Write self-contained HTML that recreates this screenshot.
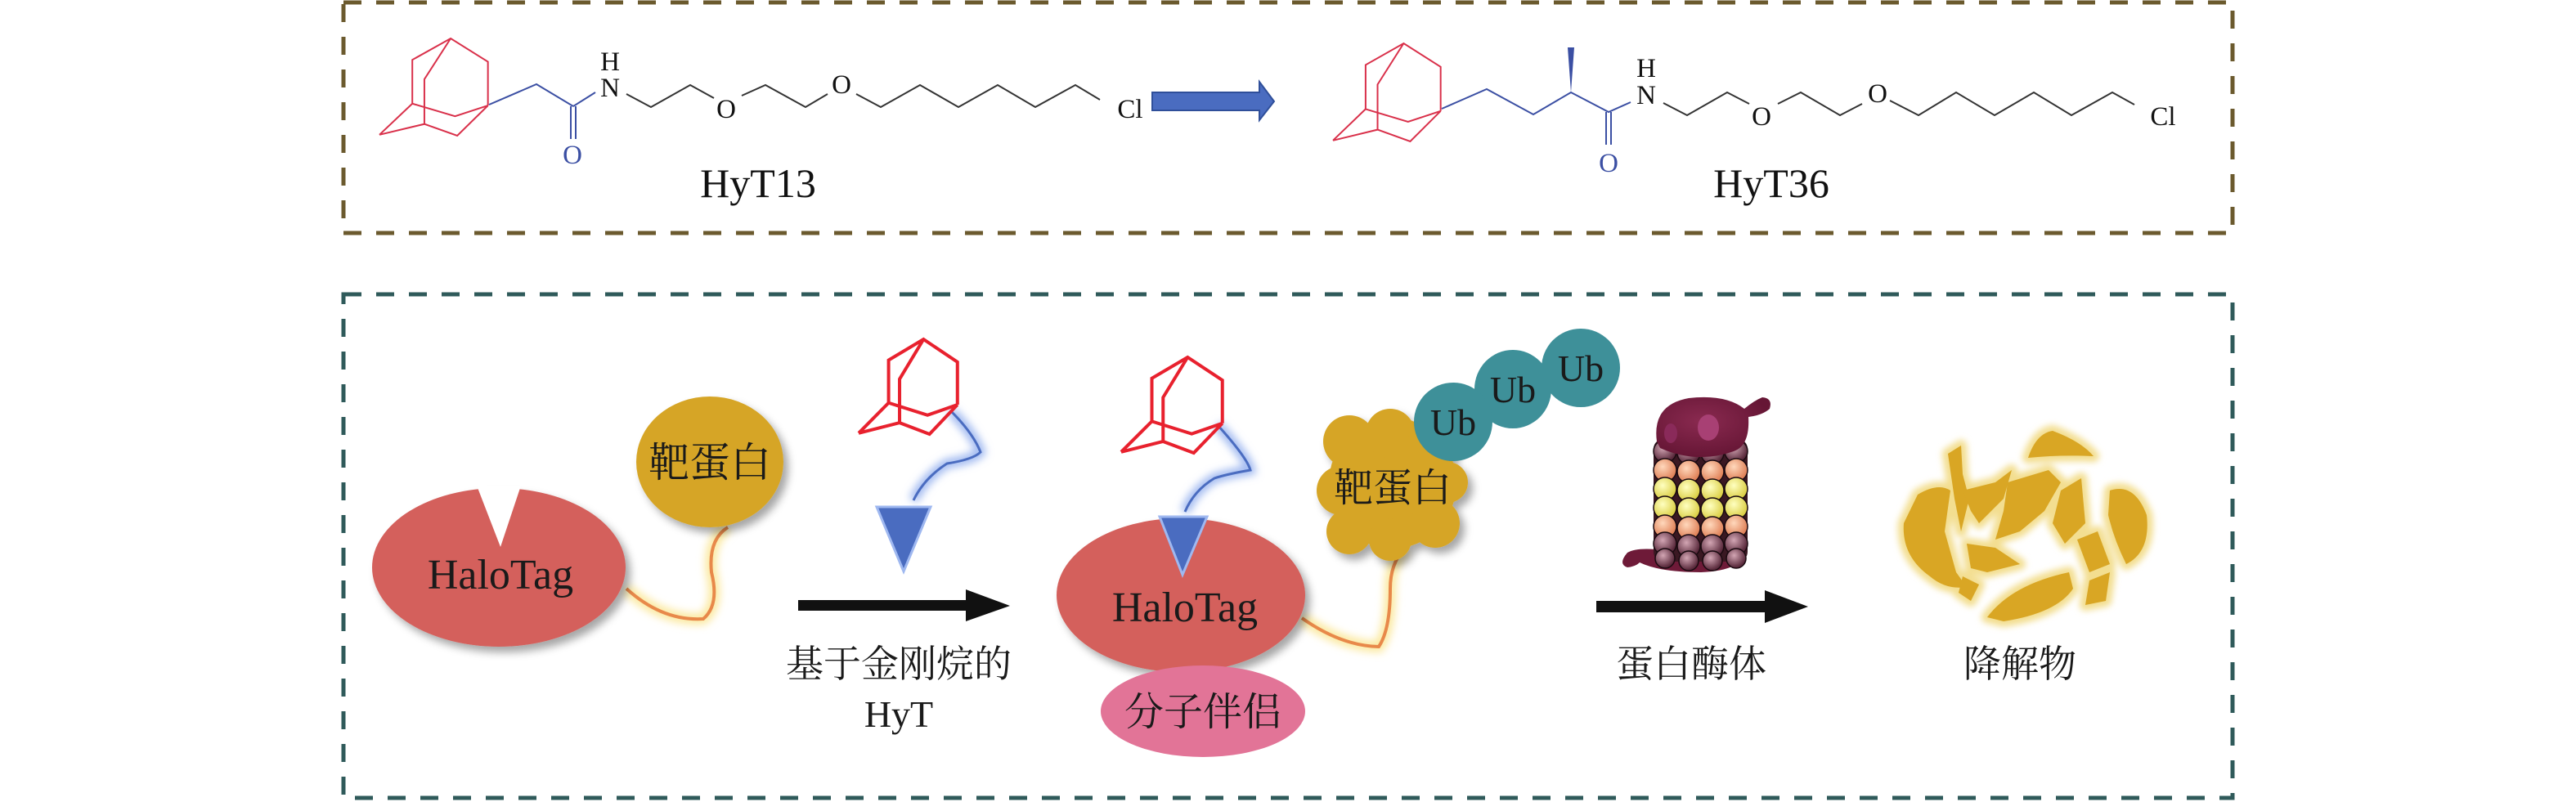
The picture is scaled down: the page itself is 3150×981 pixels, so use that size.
<!DOCTYPE html>
<html><head><meta charset="utf-8"><style>
html,body{margin:0;padding:0;background:#fff}
svg{display:block}
text{font-family:"Liberation Serif","Noto Serif CJK SC",serif}
</style></head><body>
<svg width="3150" height="981" viewBox="0 0 3150 981" xmlns="http://www.w3.org/2000/svg">
<defs>
<filter id="glow" x="-30%" y="-30%" width="160%" height="160%"><feGaussianBlur stdDeviation="5"/></filter>
<filter id="glow2" x="-30%" y="-30%" width="160%" height="160%"><feGaussianBlur stdDeviation="4"/></filter>
<filter id="sh" x="-20%" y="-20%" width="150%" height="150%"><feDropShadow dx="6" dy="7" stdDeviation="5" flood-color="#000" flood-opacity="0.35"/></filter>
<radialGradient id="ball1" cx="40%" cy="35%" r="60%"><stop offset="0" stop-color="#d3a6b4"/><stop offset="1" stop-color="#5a2a3c"/></radialGradient>
<radialGradient id="ball2" cx="40%" cy="35%" r="60%"><stop offset="0" stop-color="#ffd8bc"/><stop offset="1" stop-color="#e0835a"/></radialGradient>
<radialGradient id="ball3" cx="40%" cy="35%" r="60%"><stop offset="0" stop-color="#ffffc0"/><stop offset="1" stop-color="#dcd048"/></radialGradient>
<radialGradient id="capg" cx="40%" cy="40%" r="60%"><stop offset="0" stop-color="#8a2a50"/><stop offset="1" stop-color="#661635"/></radialGradient>
</defs>

<!-- boxes -->
<rect x="420" y="3" width="2310" height="282" fill="none" stroke="#6b5a2e" stroke-width="5" stroke-dasharray="22 18"/>
<rect x="420" y="360" width="2310" height="616" fill="none" stroke="#2f5a5a" stroke-width="5" stroke-dasharray="22 18"/>

<!-- HyT13 -->
<svg x="464" y="47" width="134" height="119" viewBox="0 0 100 100" preserveAspectRatio="none" overflow="visible">
<path d="M30,67 L30,22 L65,0 L99,24 L99,69 M65,0 L41,42 L41,88 M30,67 L69,80 L99,69 M0,99 L41,88 L71,100 L99,69 M0,99 L30,67" fill="none" stroke="#d9304a" stroke-width="2" vector-effect="non-scaling-stroke"/></svg>
<g fill="none" stroke-width="2">
<polyline points="598,128 656,103 701,130" stroke="#3b4fa3"/>
<line x1="698" y1="130" x2="698" y2="170" stroke="#3b4fa3"/><line x1="704" y1="130" x2="704" y2="170" stroke="#3b4fa3"/>
<line x1="701" y1="130" x2="728" y2="113" stroke="#3b4fa3"/>
<polyline points="766,115 796,131 844,104 873,120" stroke="#333"/>
<polyline points="907,117 936,104 985,131 1012,115" stroke="#333"/>
<polyline points="1047,115 1077,131 1125,104 1172,131 1220,104 1266,131 1315,104 1345,122" stroke="#333"/>
</g>
<g font-size="33" fill="#111">
<text x="746" y="118" text-anchor="middle">N</text><text x="746" y="86" text-anchor="middle">H</text>
<text x="888" y="144" text-anchor="middle">O</text>
<text x="1029" y="114" text-anchor="middle">O</text>
<text x="1382" y="144" text-anchor="middle">Cl</text>
<text x="700" y="200" text-anchor="middle" fill="#3b4fa3">O</text>
</g>
<text x="927" y="241" font-size="50" text-anchor="middle" fill="#111">HyT13</text>

<!-- blue arrow -->
<path d="M1409,113 L1540,113 L1540,100 L1558,124 L1540,147 L1540,135 L1409,135 Z" fill="#4a6cc0" stroke="#2f4f9a" stroke-width="2"/>

<!-- HyT36 -->
<svg x="1630" y="53" width="133" height="120" viewBox="0 0 100 100" preserveAspectRatio="none" overflow="visible">
<path d="M30,67 L30,22 L65,0 L99,24 L99,69 M65,0 L41,42 L41,88 M30,67 L69,80 L99,69 M0,99 L41,88 L71,100 L99,69 M0,99 L30,67" fill="none" stroke="#d9304a" stroke-width="2" vector-effect="non-scaling-stroke"/></svg>
<g fill="none" stroke-width="2">
<polyline points="1763,133 1818,109 1875,140 1921,113 1967,137 1994,125" stroke="#3b4fa3"/>
<line x1="1964" y1="137" x2="1964" y2="177" stroke="#3b4fa3"/><line x1="1970" y1="137" x2="1970" y2="177" stroke="#3b4fa3"/>
<polyline points="2034,126 2063,141 2112,113 2139,127" stroke="#333"/>
<polyline points="2174,127 2202,113 2250,141 2277,127" stroke="#333"/>
<polyline points="2311,123 2346,141 2392,113 2439,141 2487,113 2533,141 2583,113 2610,128" stroke="#333"/>
</g>
<polygon points="1921,113 1917,58 1925,58" fill="#3b4fa3"/>
<g font-size="33" fill="#111">
<text x="2013" y="127" text-anchor="middle">N</text><text x="2013" y="94" text-anchor="middle">H</text>
<text x="2154" y="153" text-anchor="middle">O</text>
<text x="2296" y="125" text-anchor="middle">O</text>
<text x="2645" y="153" text-anchor="middle">Cl</text>
<text x="1967" y="210" text-anchor="middle" fill="#3b4fa3">O</text>
</g>
<text x="2166" y="241" font-size="50" text-anchor="middle" fill="#111">HyT36</text>

<!-- ===== bottom ===== -->
<path d="M766,720 Q810,760 860,757 Q880,740 870,700 Q866,660 890,645" fill="none" stroke="#fbe9a0" stroke-width="14" filter="url(#glow)"/>
<path d="M766,720 Q810,760 860,757 Q880,740 870,700 Q866,660 890,645" fill="none" stroke="#e8894a" stroke-width="4"/>
<ellipse cx="610" cy="694" rx="155" ry="97" fill="#d4605b" filter="url(#sh)"/>
<polygon points="583,594 637,594 612,669" fill="#fff"/>
<text x="612" y="720" font-size="52" text-anchor="middle" fill="#1a1a1a">HaloTag</text>
<ellipse cx="868" cy="565" rx="90" ry="80" fill="#d6a526" filter="url(#sh)"/>
<text x="868" y="583" font-size="50" text-anchor="middle" fill="#1a1a1a">靶蛋白</text>

<!-- adamantane 2 -->
<path d="M1163,503 Q1190,530 1199,553 Q1190,562 1158,567 Q1130,585 1117,612" fill="none" stroke="#9fb8f0" stroke-width="12" filter="url(#glow)"/>
<path d="M1163,503 Q1190,530 1199,553 Q1190,562 1158,567 Q1130,585 1117,612" fill="none" stroke="#4a6cc0" stroke-width="3"/>
<svg x="1050" y="415" width="122" height="116" viewBox="0 0 100 100" preserveAspectRatio="none" overflow="visible">
<path d="M30,67 L30,22 L65,0 L99,24 L99,69 M65,0 L41,42 L41,88 M30,67 L69,80 L99,69 M0,99 L41,88 L71,100 L99,69 M0,99 L30,67" fill="none" stroke="#e8212e" stroke-width="4" vector-effect="non-scaling-stroke"/></svg>
<polygon points="1072,620 1138,620 1105,699" fill="#4a6cc0" stroke="#9fb8f0" stroke-width="3"/>

<path d="M976,734 L1181,734 L1181,721 L1235,741 L1181,760 L1181,747 L976,747 Z" fill="#111"/>
<text x="1099" y="828" font-size="46" text-anchor="middle" fill="#1a1a1a">基于金刚烷的</text>
<text x="1099" y="889" font-size="46" text-anchor="middle" fill="#1a1a1a">HyT</text>

<path d="M1592,756 Q1640,790 1686,791 Q1700,770 1700,720 Q1700,690 1717,671" fill="none" stroke="#fbe9a0" stroke-width="14" filter="url(#glow)"/>
<path d="M1592,756 Q1640,790 1686,791 Q1700,770 1700,720 Q1700,690 1717,671" fill="none" stroke="#e8894a" stroke-width="4"/>
<ellipse cx="1444" cy="728" rx="152" ry="94" fill="#d4605b" filter="url(#sh)"/>
<text x="1449" y="760" font-size="52" text-anchor="middle" fill="#1a1a1a">HaloTag</text>
<ellipse cx="1471" cy="870" rx="125" ry="56" fill="#e27497"/>
<text x="1471" y="887" font-size="48" text-anchor="middle" fill="#1a1a1a">分子伴侣</text>
<path d="M1489,520 Q1525,560 1529,575 Q1500,580 1485,585 Q1460,600 1449,626" fill="none" stroke="#9fb8f0" stroke-width="12" filter="url(#glow)"/>
<path d="M1489,520 Q1525,560 1529,575 Q1500,580 1485,585 Q1460,600 1449,626" fill="none" stroke="#4a6cc0" stroke-width="3"/>
<svg x="1371" y="437" width="125" height="117" viewBox="0 0 100 100" preserveAspectRatio="none" overflow="visible">
<path d="M30,67 L30,22 L65,0 L99,24 L99,69 M65,0 L41,42 L41,88 M30,67 L69,80 L99,69 M0,99 L41,88 L71,100 L99,69 M0,99 L30,67" fill="none" stroke="#e8212e" stroke-width="4" vector-effect="non-scaling-stroke"/></svg>
<polygon points="1418,632 1476,632 1446,703" fill="#4a6cc0" stroke="#9fb8f0" stroke-width="3"/>

<g fill="#d6a526" filter="url(#sh)">
<ellipse cx="1703" cy="591" rx="78" ry="80"/>
<circle cx="1650" cy="540" r="32"/><circle cx="1700" cy="530" r="30"/><circle cx="1750" cy="545" r="30"/>
<circle cx="1640" cy="600" r="30"/><circle cx="1650" cy="650" r="28"/><circle cx="1700" cy="660" r="26"/><circle cx="1755" cy="640" r="30"/><circle cx="1770" cy="590" r="25"/>
</g>
<text x="1703" y="613" font-size="48" text-anchor="middle" fill="#1a1a1a">靶蛋白</text>

<g fill="#3e9099">
<ellipse cx="1933" cy="450" rx="48" ry="48"/><ellipse cx="1850" cy="476" rx="47" ry="48"/><ellipse cx="1777" cy="516" rx="48" ry="48"/>
</g>
<g font-size="46" fill="#1a1a1a" text-anchor="middle">
<text x="1933" y="466">Ub</text><text x="1850" y="492">Ub</text><text x="1777" y="532">Ub</text>
</g>

<!-- proteasome -->
<path d="M2025,672 Q2000,670 1990,676 Q1978,690 1990,694 Q2000,693 2005,688 Q2030,700 2080,700 Q2132,698 2137,672 Z" fill="#6e1a38"/>
<rect x="2022" y="537" width="115" height="150" fill="#3a1822" rx="12"/>
<g stroke="#1a0a10" stroke-width="1.5">
<g fill="url(#ball1)"><circle cx="2036" cy="552" r="14"/><circle cx="2065" cy="554" r="14"/><circle cx="2094" cy="554" r="14"/><circle cx="2123" cy="552" r="14"/></g>
<g fill="url(#ball2)"><circle cx="2036" cy="575" r="14"/><circle cx="2065" cy="577" r="14"/><circle cx="2094" cy="577" r="14"/><circle cx="2123" cy="575" r="14"/></g>
<g fill="url(#ball3)"><circle cx="2036" cy="598" r="14"/><circle cx="2065" cy="600" r="14"/><circle cx="2094" cy="600" r="14"/><circle cx="2123" cy="598" r="14"/></g>
<g fill="url(#ball3)"><circle cx="2036" cy="621" r="14"/><circle cx="2065" cy="623" r="14"/><circle cx="2094" cy="623" r="14"/><circle cx="2123" cy="621" r="14"/></g>
<g fill="url(#ball2)"><circle cx="2036" cy="644" r="14"/><circle cx="2065" cy="646" r="14"/><circle cx="2094" cy="646" r="14"/><circle cx="2123" cy="644" r="14"/></g>
<g fill="url(#ball1)"><circle cx="2036" cy="665" r="14"/><circle cx="2065" cy="668" r="14"/><circle cx="2094" cy="668" r="14"/><circle cx="2123" cy="665" r="14"/></g>
<g fill="url(#ball1)"><circle cx="2036" cy="683" r="12"/><circle cx="2065" cy="686" r="12"/><circle cx="2094" cy="686" r="12"/><circle cx="2123" cy="683" r="12"/></g>
</g>
<path d="M2026,540 Q2020,495 2065,487 Q2110,482 2133,500 Q2145,490 2155,486 Q2168,487 2164,500 Q2155,508 2138,510 Q2140,545 2120,552 Q2075,568 2030,548 Z" fill="url(#capg)"/>
<ellipse cx="2089" cy="523" rx="13" ry="16" fill="#a84074"/>
<ellipse cx="2043" cy="530" rx="8" ry="12" fill="#8a2a5a"/>

<path d="M1952,735 L2158,735 L2158,722 L2211,742 L2158,762 L2158,749 L1952,749 Z" fill="#111"/>
<text x="2068" y="828" font-size="46" text-anchor="middle" fill="#1a1a1a">蛋白酶体</text>

<!-- degraded -->
<g id="frag">
<path d="M2345,605 Q2370,590 2385,600 L2378,650 L2392,700 L2405,718 Q2380,722 2360,705 Q2325,680 2328,640 Z"/>
<path d="M2382,555 L2398,545 L2400,580 L2408,610 L2398,650 L2390,610 Z"/>
<path d="M2400,600 L2440,590 L2460,575 L2450,610 L2420,640 L2410,625 Z"/>
<path d="M2480,560 Q2490,530 2510,527 Q2545,540 2560,558 Q2520,556 2480,560 Z"/>
<path d="M2455,590 L2505,575 L2520,590 L2500,625 L2470,650 L2440,660 L2450,625 Z"/>
<path d="M2520,600 L2545,585 L2550,640 L2525,665 L2510,640 Z"/>
<path d="M2580,600 Q2610,590 2625,630 Q2630,675 2600,690 Q2585,660 2578,630 Z"/>
<path d="M2405,665 L2440,670 L2470,690 L2430,700 L2410,695 Z"/>
<path d="M2540,660 L2565,650 L2580,690 L2555,700 Z"/>
<path d="M2430,755 Q2460,715 2530,700 L2535,720 Q2515,750 2450,760 Z"/>
<path d="M2555,710 L2580,700 L2575,735 L2550,740 Z"/>
<path d="M2400,705 L2420,715 L2410,735 L2395,725 Z"/>
</g>
<g fill="#f3de90" stroke="#f3de90" stroke-width="14" stroke-linejoin="round" filter="url(#glow2)">
<use href="#frag"/>
</g>
<g fill="#d9a624"><use href="#frag"/></g>
<text x="2470" y="828" font-size="46" text-anchor="middle" fill="#1a1a1a">降解物</text>
</svg>
</body></html>
